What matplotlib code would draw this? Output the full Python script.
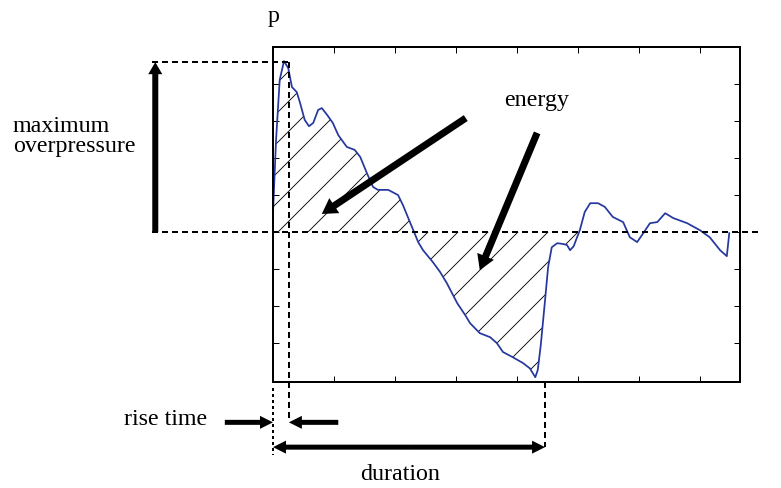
import numpy as np
import matplotlib.pyplot as plt

plt.rcParams['font.family'] = ['Liberation Serif', 'DejaVu Serif']
plt.rcParams['hatch.linewidth'] = 0.35

# pressure trace (arbitrary units)
t = np.array([0.00, 0.05, 0.11, 0.18, 0.25, 0.31, 0.39, 0.44, 0.52, 0.59,
              0.66, 0.74, 0.80, 0.89, 0.98, 1.07, 1.21, 1.34, 1.43, 1.54,
              1.64, 1.72, 1.89, 2.05, 2.13, 2.21, 2.30, 2.38, 2.46, 2.62,
              2.74, 2.85, 3.02, 3.15, 3.23, 3.39, 3.56, 3.67, 3.77, 3.93,
              4.10, 4.21, 4.30, 4.34, 4.39, 4.46, 4.51, 4.57, 4.66, 4.75,
              4.82, 4.87, 4.93, 4.98, 5.03, 5.11, 5.20, 5.33, 5.44, 5.57,
              5.74, 5.85, 5.97, 6.07, 6.18, 6.30, 6.43, 6.56, 6.79, 7.00,
              7.16, 7.33, 7.44, 7.48])
p = np.array([0.51, 2.49, 4.11, 4.62, 4.43, 3.92, 3.78, 3.51, 3.03, 2.86,
              2.95, 3.30, 3.35, 3.16, 2.95, 2.62, 2.30, 2.22, 2.03, 1.59,
              1.22, 1.14, 1.14, 1.00, 0.73, 0.41, 0.05, -0.27, -0.49, -0.81,
              -1.08, -1.38, -1.92, -2.24, -2.46, -2.73, -2.84, -3.00, -3.24, -3.38,
              -3.54, -3.68, -3.92, -3.73, -3.05, -1.84, -0.95, -0.41, -0.30, -0.32,
              -0.35, -0.49, -0.38, -0.16, 0.05, 0.54, 0.78, 0.78, 0.68, 0.41,
              0.27, -0.14, -0.27, -0.03, 0.24, 0.27, 0.51, 0.38, 0.24, 0.05,
              -0.14, -0.49, -0.65, -0.03])

p_max = 4.59     # maximum overpressure level
t_rise = 0.26    # rise time
t_dur = 4.46     # duration
t_zero = 5.03    # end of hatched (energy) area

DPI = 180
fig = plt.figure(figsize=(782 / DPI, 488 / DPI), dpi=DPI)
ax = fig.add_axes([273 / 782, 106 / 488, 467 / 782, 335 / 488])
ax.set_xlim(0, 7.656)
ax.set_ylim(-4.05, 5.0)
ax.set_xticks(range(1, 8))
ax.set_yticks(range(-3, 5))
ax.tick_params(direction='in', length=2.4, width=0.4, top=True, right=True,
               labelbottom=False, labelleft=False)
for s in ax.spines.values():
    s.set_linewidth(0.8)

# energy (hatched)
ax.fill_between(t, p, 0, where=t <= t_zero, interpolate=True,
                facecolor='none', edgecolor='k', lw=0, hatch='//')
ax.plot(t, p, color='#26379e', lw=0.7)

# dashed guide lines
dash = dict(color='k', lw=0.8, dashes=(3, 2), clip_on=False)
ax.plot([-1.98, 7.98], [0, 0], **dash)
ax.plot([-1.98, t_rise], [p_max, p_max], **dash)
ax.plot([t_rise, t_rise], [p_max, -5.14], **dash)
ax.plot([t_dur, t_dur], [-4.05, -5.81], **dash)
ax.plot([0, 0], [-4.22, -6.03], color='k', lw=0.8, dashes=(1.5, 1.5), clip_on=False)


def arrow(x0, y0, x1, y1, tail, hw, hl):
    style = f'simple,tail_width={tail},head_width={hw},head_length={hl}'
    ax.annotate('', xy=(x1, y1), xytext=(x0, y0), annotation_clip=False,
                arrowprops=dict(arrowstyle=style, fc='k', ec='none', lw=0,
                                shrinkA=0, shrinkB=0, mutation_scale=10))


arrow(-1.93, 0, -1.93, p_max, 0.24, 0.56, 0.48)
arrow(3.16, 3.08, 0.80, 0.49, 0.28, 0.72, 0.6)
arrow(4.33, 2.68, 3.39, -1.03, 0.28, 0.72, 0.6)
arrow(-0.79, -5.14, 0, -5.14, 0.2, 0.52, 0.52)
arrow(1.07, -5.14, t_rise, -5.14, 0.2, 0.52, 0.52)
arrow(t_dur / 2, -5.81, 0, -5.81, 0.2, 0.52, 0.52)
arrow(t_dur / 2, -5.81, t_dur, -5.81, 0.2, 0.52, 0.52)


def label(x, y, s, ha='left'):
    fig.text(x / 782, 1 - y / 488, s, ha=ha, va='baseline', fontsize=9.6)


label(13, 132, 'maximum')
label(13, 152, 'overpressure')
label(537, 106, 'energy', ha='center')
label(207, 425, 'rise time', ha='right')
label(400, 480, 'duration', ha='center')
label(268, 22, 'p')
label(781, 392, 't')

fig.savefig('out.png', dpi=DPI)
